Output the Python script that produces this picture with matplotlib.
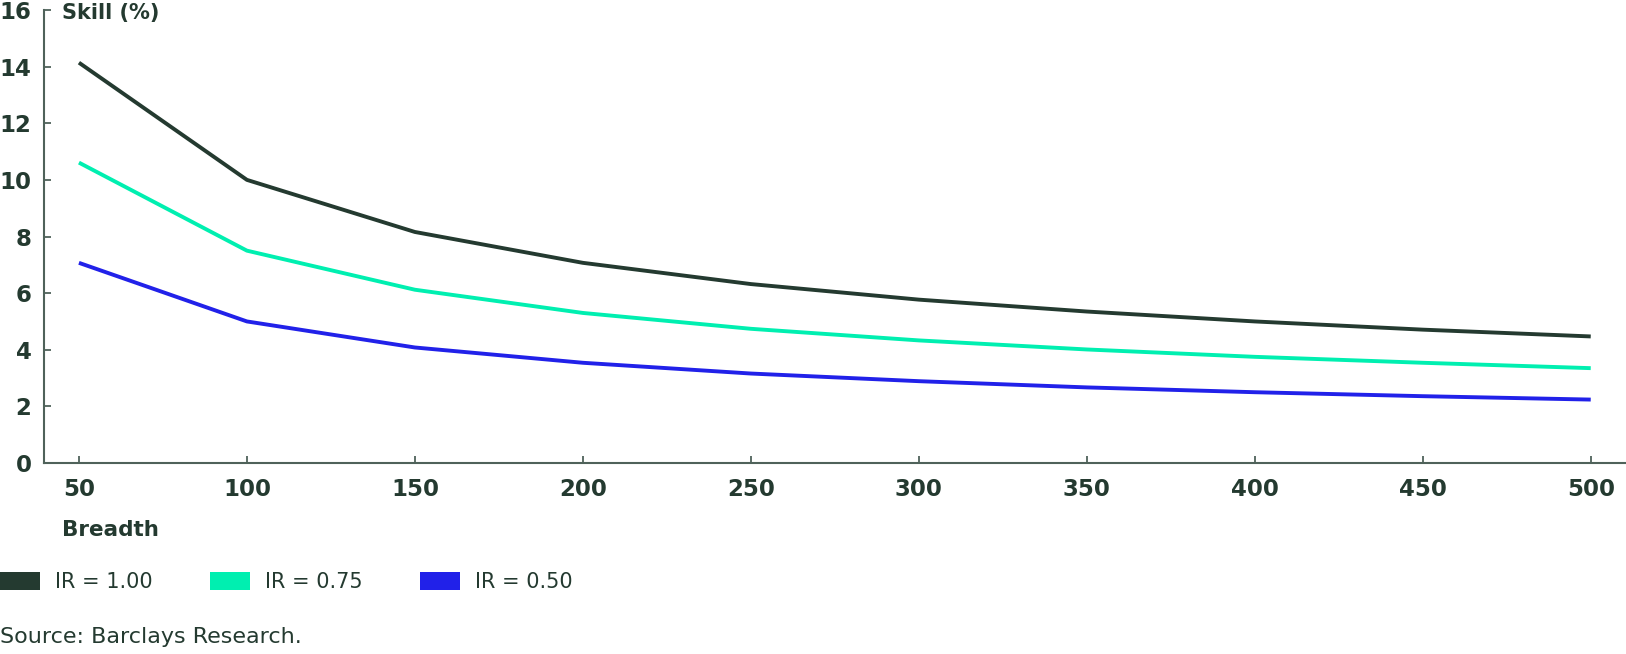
"""Skill vs breadth for three information ratios."""

import matplotlib

matplotlib.use("Agg")
import matplotlib.pyplot as plt  # noqa: E402
from matplotlib.patches import Patch  # noqa: E402

breadth = [50, 100, 150, 200, 250, 300, 350, 400, 450, 500]
skill_ir100 = [14.14, 10.0, 8.16, 7.07, 6.32, 5.77, 5.35, 5.0, 4.71, 4.47]
skill_ir075 = [10.61, 7.5, 6.12, 5.30, 4.74, 4.33, 4.01, 3.75, 3.54, 3.35]
skill_ir050 = [7.07, 5.0, 4.08, 3.54, 3.16, 2.89, 2.67, 2.5, 2.36, 2.24]
series_labels = ["IR = 1.00", "IR = 0.75", "IR = 0.50"]
y_ticks = [0, 2, 4, 6, 8, 10, 12, 14, 16]

DARK = "#243a30"
MINT = "#00efb0"
BLUE = "#2121e9"
AXIS = "#4f625a"
colors = [DARK, MINT, BLUE]

W, H = 1626, 654
fig = plt.figure(figsize=(W / 100, H / 100), dpi=100)
ax = fig.add_axes([44 / W, 1 - 463 / H, 1 - 44 / W, (463 - 10) / H])

for ys, c, lab in zip([skill_ir100, skill_ir075, skill_ir050], colors, series_labels):
    ax.plot(breadth, ys, color=c, lw=2.8, label=lab, solid_capstyle="butt")

ax.set_xlim(39.6, 510.5)
ax.set_ylim(0, 16)
ax.set_xticks(breadth)
ax.set_yticks(y_ticks)
for side in ("top", "right"):
    ax.spines[side].set_visible(False)
for side in ("left", "bottom"):
    ax.spines[side].set_color(AXIS)
    ax.spines[side].set_linewidth(1.5)
ax.tick_params(direction="in", length=5, width=1.3, color=AXIS,
               labelcolor=DARK, labelsize=16.5)
ax.tick_params(axis="x", pad=11)
ax.tick_params(axis="y", pad=9)
for t in ax.get_xticklabels() + ax.get_yticklabels():
    t.set_fontweight("bold")

fig.text(62 / W, 1 - 13 / H, "Skill (%)", fontsize=15, fontweight="bold",
         color=DARK, va="center", ha="left")
fig.text(62 / W, 1 - 530 / H, "Breadth", fontsize=15.5, fontweight="bold",
         color=DARK, va="center", ha="left")

handles = [Patch(facecolor=c, edgecolor="none") for c in colors]
fig.legend(handles, series_labels, loc="center left",
           bbox_to_anchor=(0, 1 - 582 / H), ncol=3, frameon=False,
           fontsize=15, labelcolor=DARK, handlelength=1.9, handleheight=0.95,
           handletextpad=0.75, columnspacing=2.75, borderpad=0, borderaxespad=0)

fig.text(0, 1 - 637 / H, "Source: Barclays Research.", fontsize=16,
         color=DARK, va="center", ha="left")

fig.savefig("out.png", dpi=100)
plt.close(fig)
